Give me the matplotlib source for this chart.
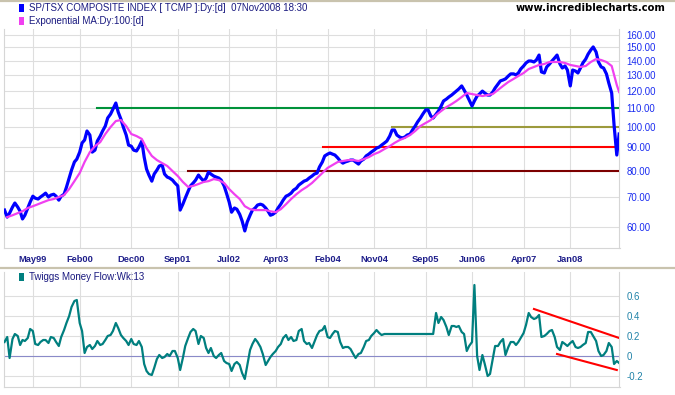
# Import libraries
import pandas as pd
import matplotlib.pyplot as plt
from matplotlib.patches import Rectangle
from matplotlib.lines import Line2D
from matplotlib.ticker import FixedLocator, NullLocator, FixedFormatter

# Declare variable
START_DATE = "1998-11-15"
W, H = 675, 395

# S&P/TSX composite index (x 1/100), twice a month
price = [
    65.4, 63.1, 64.4, 66.4, 67.8, 66.4, 65.0, 62.5, 63.7, 66.1,
    68.1, 70.2, 69.5, 69.2, 69.9, 70.6, 71.3, 69.9, 70.6, 70.9,
    70.2, 68.8, 70.2, 70.9, 73.5, 77.0, 80.2, 83.6, 84.8, 87.9,
    92.1, 93.5, 97.9, 95.9, 87.9, 88.8, 93.0, 95.4, 97.9, 100.4,
    104.6, 106.7, 109.5, 112.9, 107.8, 104.0, 99.9, 95.9, 91.1, 90.6,
    88.8, 88.4, 90.2, 93.0, 85.7, 80.6, 78.2, 75.8, 78.6, 80.2,
    81.9, 82.3, 78.6, 77.4, 77.0, 76.2, 75.1, 74.0, 65.4, 67.4,
    69.5, 72.0, 74.0, 75.1, 76.2, 78.2, 77.0, 75.8, 77.0, 79.4,
    78.6, 77.8, 77.4, 77.0, 76.2, 74.0, 71.3, 68.1, 64.7, 66.1,
    65.7, 64.0, 61.9, 58.8, 61.5, 63.7, 65.4, 66.1, 67.1, 67.4,
    67.1, 66.1, 65.0, 63.7, 64.0, 64.7, 66.1, 67.4, 68.8, 70.2,
    70.6, 71.3, 72.4, 73.1, 74.3, 75.1, 75.8, 76.2, 77.0, 77.8,
    78.6, 79.0, 81.5, 83.6, 86.2, 87.0, 87.5, 87.0, 86.6, 85.3,
    84.0, 83.1, 83.6, 84.0, 84.4, 84.4, 83.6, 82.7, 84.0, 84.8,
    86.2, 87.0, 87.9, 88.8, 89.7, 90.2, 91.1, 92.1, 93.0, 95.4,
    98.4, 98.4, 95.9, 94.9, 94.5, 94.9, 95.9, 96.4, 98.4, 100.4,
    102.5, 104.6, 106.7, 109.0, 109.0, 105.7, 104.6, 106.7, 108.4, 111.2,
    114.1, 115.2, 116.4, 117.6, 118.8, 120.0, 121.3, 123.2, 120.7, 117.6,
    114.7, 111.2, 114.1, 117.0, 118.2, 120.0, 118.8, 117.6, 117.6, 119.4,
    121.9, 124.4, 126.4, 127.0, 127.7, 129.6, 131.0, 131.0, 130.3, 131.6,
    134.3, 136.4, 138.5, 139.9, 139.9, 139.2, 140.6, 144.2, 132.3, 131.6,
    135.7, 137.8, 139.9, 142.1, 144.2, 137.8, 135.0, 136.4, 133.6, 123.2,
    133.6, 132.9, 131.6, 135.0, 138.5, 141.3, 144.9, 148.0, 150.3, 146.5,
    139.2, 135.7, 135.0, 131.0, 125.0, 118.8, 100.9, 86.6, 96.4,
]

# Exponential MA 100, monthly reading plus last day
ma100 = [
    63.1, 63.7, 64.4, 65.0, 66.1, 66.7, 67.4, 68.1, 68.8, 69.2,
    69.9, 70.6, 72.8, 75.8, 79.0, 83.6, 87.9, 90.6, 92.5, 96.4,
    99.9, 103.0, 103.5, 100.4, 96.4, 95.4, 94.0, 89.7, 86.2, 84.4,
    83.1, 81.9, 79.8, 77.8, 75.5, 73.6, 74.0, 74.7, 75.5, 75.8,
    76.6, 76.2, 75.1, 72.8, 70.9, 69.2, 66.7, 65.7, 65.4, 65.4,
    65.4, 65.0, 64.7, 65.7, 67.4, 69.2, 70.9, 72.4, 73.6, 75.1,
    77.0, 79.0, 81.1, 82.3, 83.6, 84.0, 84.4, 84.4, 84.0, 84.8,
    85.7, 87.0, 87.9, 89.3, 90.6, 92.1, 93.5, 94.5, 95.9, 97.9,
    100.4, 102.0, 103.5, 106.2, 108.4, 110.6, 112.3, 114.1, 116.4, 118.8,
    118.2, 117.6, 117.0, 117.6, 118.2, 120.7, 123.2, 125.7, 127.7, 129.6,
    131.6, 134.3, 135.7, 137.1, 137.8, 139.2, 139.2, 139.2, 138.5, 137.1,
    136.4, 135.7, 136.4, 139.2, 141.3, 140.6, 139.2, 136.4, 123.8, 119.4,
]

# Twiggs Money Flow (13 weeks), twice a month
twiggs = [
    0.14, 0.19, -0.02, 0.17, 0.22, 0.20, 0.11, 0.16, 0.15, 0.18,
    0.27, 0.25, 0.12, 0.11, 0.14, 0.16, 0.16, 0.13, 0.19, 0.18,
    0.14, 0.10, 0.19, 0.26, 0.33, 0.40, 0.49, 0.55, 0.56, 0.33,
    0.25, 0.03, 0.09, 0.11, 0.07, 0.10, 0.15, 0.11, 0.12, 0.16,
    0.20, 0.21, 0.25, 0.33, 0.28, 0.21, 0.18, 0.15, 0.11, 0.17,
    0.12, 0.11, 0.15, 0.09, -0.08, -0.15, -0.18, -0.19, -0.12, -0.03,
    0.01, -0.02, -0.01, 0.02, 0.00, 0.05, 0.05, -0.02, -0.14, -0.02,
    0.10, 0.18, 0.24, 0.27, 0.25, 0.12, 0.20, 0.18, 0.08, 0.03,
    0.08, 0.00, -0.02, 0.01, 0.03, -0.05, -0.07, -0.08, -0.15, -0.08,
    -0.06, -0.09, -0.17, -0.23, -0.10, 0.06, 0.12, 0.17, 0.14, 0.09,
    0.02, -0.09, -0.05, -0.01, 0.02, 0.05, 0.09, 0.12, 0.18, 0.21,
    0.16, 0.19, 0.15, 0.16, 0.25, 0.27, 0.15, 0.12, 0.13, 0.08,
    0.14, 0.21, 0.25, 0.26, 0.30, 0.19, 0.18, 0.22, 0.25, 0.24,
    0.14, 0.08, 0.09, 0.09, 0.07, 0.02, -0.02, 0.02, 0.03, 0.09,
    0.15, 0.16, 0.20, 0.23, 0.26, 0.23, 0.21, 0.22, 0.22, 0.22,
    0.22, 0.22, 0.22, 0.22, 0.22, 0.22, 0.22, 0.22, 0.22, 0.22,
    0.22, 0.22, 0.22, 0.22, 0.22, 0.22, 0.22, 0.43, 0.33, 0.39,
    0.36, 0.29, 0.21, 0.30, 0.30, 0.29, 0.30, 0.24, 0.22, 0.05,
    0.10, 0.14, 0.71, 0.00, -0.14, 0.01, -0.08, -0.20, -0.18, -0.03,
    0.10, 0.10, 0.14, 0.17, 0.01, 0.09, 0.14, 0.14, 0.11, 0.14,
    0.18, 0.23, 0.31, 0.43, 0.39, 0.37, 0.38, 0.41, 0.19, 0.20,
    0.22, 0.25, 0.26, 0.19, 0.09, 0.06, 0.14, 0.12, 0.10, 0.13,
    0.15, 0.09, 0.08, 0.09, 0.11, 0.13, 0.24, 0.24, 0.20, 0.15,
    0.05, 0.00, 0.01, 0.05, 0.13, 0.09, -0.08, -0.05, -0.07,
]

# Support / resistance levels
level_values = [110, 100, 90, 80]
level_starts = ["2000-05-15", "2005-02-15", "2004-01-05", "2001-11-01"]
level_colors = ["#00923a", "#9c9a3c", "#ff0000", "#7c0000"]

# Trend channel on money flow
trend_upper_dates = ["2007-06-01", "2008-10-15"]
trend_upper_vals = [0.47, 0.18]
trend_lower_dates = ["2007-10-15", "2008-10-01"]
trend_lower_vals = [0.02, -0.14]

# Axis ticks
price_ticks = [60, 70, 80, 90, 100, 110, 120, 130, 140, 150, 160]
tmf_ticks = [-0.2, 0, 0.2, 0.4, 0.6]
tmf_tick_labels = ["-0.2", "0", "0.2", "0.4", "0.6"]
month_ticks = ["1999-05-01", "2000-02-01", "2000-12-01", "2001-09-01",
               "2002-07-01", "2003-04-01", "2004-02-01", "2004-11-01",
               "2005-09-01", "2006-06-01", "2007-04-01", "2008-01-01"]
month_labels = ["May99", "Feb00", "Dec00", "Sep01", "Jul02", "Apr03",
                "Feb04", "Nov04", "Sep05", "Jun06", "Apr07", "Jan08"]

GRID = "#dedede"
FONT = ["Liberation Sans", "DejaVu Sans"]
plt.rcParams["font.family"] = FONT

# Build dates
dates = pd.date_range(START_DATE, periods=len(price), freq="SMS")
ma_dates = list(dates[1::2]) + [dates[-1]]
xmin = pd.Timestamp("1998-11-12")
xmax = pd.Timestamp("2008-10-17")
tick_dates = pd.to_datetime(month_ticks)

# Figure
fig = plt.figure(figsize=(W / 100, H / 100), dpi=100)
ax1 = fig.add_axes([4 / W, 1 - 248 / H, 615.5 / W, 219 / H])
ax2 = fig.add_axes([4 / W, 1 - 387 / H, 615.5 / W, 115 / H])

## Price panel
ax1.set_yscale("log")
ax1.plot(dates, price, color="#0000ff", lw=2.3, zorder=4)
ax1.plot(ma_dates, ma100, color="#f040f0", lw=1.6, zorder=5)
for val, start, col in zip(level_values, level_starts, level_colors):
    ax1.plot([pd.Timestamp(start), dates[-1]], [val, val], color=col, lw=1.5, zorder=3)
ax1.set_xlim(xmin, xmax)
ax1.set_ylim(53.9, 164.7)
ax1.yaxis.set_major_locator(FixedLocator(price_ticks))
ax1.yaxis.set_major_formatter(FixedFormatter([f"{v:.2f}" for v in price_ticks]))
ax1.yaxis.set_minor_locator(NullLocator())
ax1.yaxis.tick_right()
ax1.set_xticks(tick_dates)
ax1.set_xticklabels(month_labels)
ax1.tick_params(axis="x", length=0, pad=5, labelsize=6.7, labelcolor="#1e1e8a")
ax1.tick_params(axis="y", which="both", length=0, pad=5, labelsize=6.9, labelcolor="#1a2cf0")
for lab in ax1.get_xticklabels():
    lab.set_fontweight("bold")
ax1.grid(True, color=GRID, lw=0.8, zorder=0)

## Money flow panel
ax2.plot(dates, twiggs, color="#007f7f", lw=1.6, zorder=4)
ax2.axhline(0, color="#8a8ac8", lw=0.8, zorder=2)
ax2.plot(pd.to_datetime(trend_upper_dates), trend_upper_vals, color="#ff0000", lw=1.5, zorder=5)
ax2.plot(pd.to_datetime(trend_lower_dates), trend_lower_vals, color="#ff0000", lw=1.5, zorder=5)
ax2.set_xlim(xmin, xmax)
ax2.set_ylim(-0.31, 0.84)
ax2.set_yticks(tmf_ticks)
ax2.set_yticklabels(tmf_tick_labels)
ax2.yaxis.tick_right()
ax2.set_xticks(tick_dates)
ax2.set_xticklabels([])
ax2.tick_params(axis="both", length=0, pad=5, labelsize=6.9, labelcolor="#1f82a8")
ax2.grid(True, color=GRID, lw=0.8, zorder=0)

for ax in (ax1, ax2):
    ax.set_facecolor("white")
    ax.spines["top"].set_visible(False)
    for side in ("left", "right", "bottom"):
        ax.spines[side].set_color("#d6d6d6")
        ax.spines[side].set_linewidth(0.8)

## Legends and header
def add_key(x, y, color, text):
    fig.add_artist(Rectangle((19 / W, 1 - (y + 4) / H), 5 / W, 8 / H,
                             transform=fig.transFigure, color=color, lw=0))
    fig.text(x / W, 1 - y / H, text, ha="left", va="center",
             fontsize=7, color="#1a1a80")

add_key(29, 8, "#0000ff", "SP/TSX COMPOSITE INDEX [ TCMP ]:Dy:[d]  07Nov2008 18:30")
add_key(29, 21, "#f040f0", "Exponential MA:Dy:100:[d]")
add_key(29, 277, "#007f7f", "Twiggs Money Flow:Wk:13")
fig.text(666 / W, 1 - 8 / H, "www.incrediblecharts.com", ha="right", va="center",
         fontsize=7.2, fontweight="bold", color="black", family="DejaVu Sans")

## Panel separators
for yy in (0.8, 268):
    fig.add_artist(Line2D([0, 1], [1 - yy / H] * 2, color="#c9c3ae", lw=1.6,
                          transform=fig.transFigure))

fig.savefig("out.png", dpi=100)
